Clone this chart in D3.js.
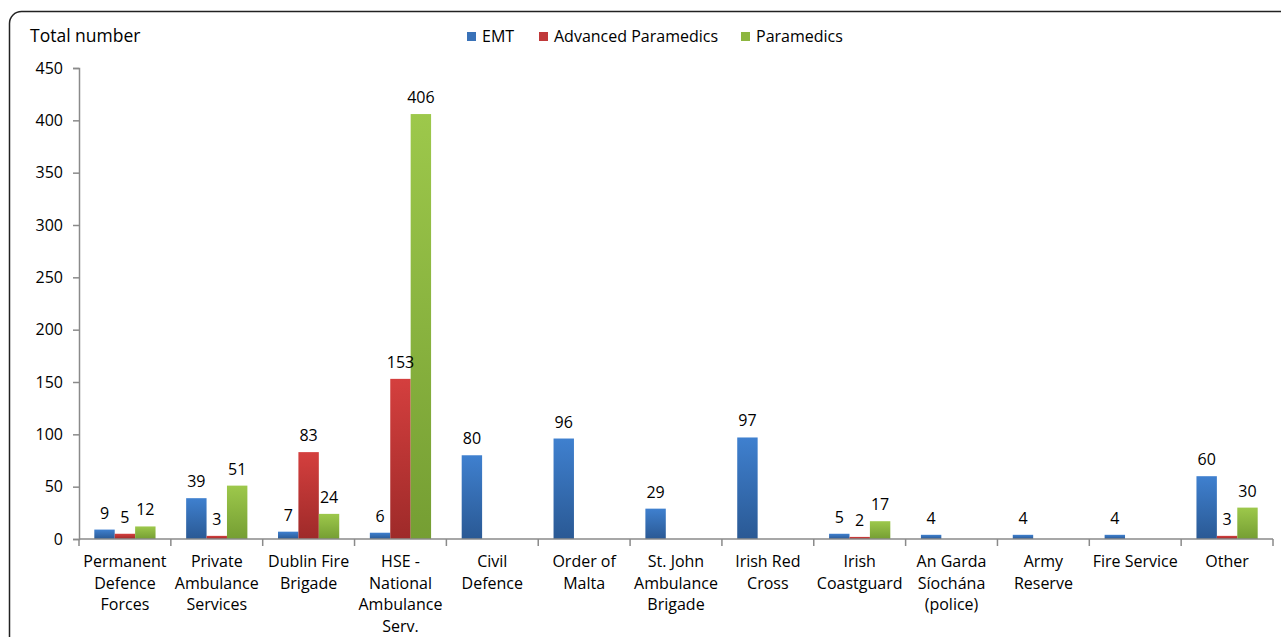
<!DOCTYPE html>
<html><head><meta charset="utf-8">
<script src="https://cdn.jsdelivr.net/npm/d3@7"></script>
<style>body{margin:0;background:#fff;}svg{display:block;font-family:"Open Sans",sans-serif;}</style>
</head><body>
<svg id="c" width="1281" height="637"></svg>
<script>
const categories = [
  ["Permanent","Defence","Forces"],
  ["Private","Ambulance","Services"],
  ["Dublin Fire","Brigade"],
  ["HSE -","National","Ambulance","Serv."],
  ["Civil","Defence"],
  ["Order of","Malta"],
  ["St. John","Ambulance","Brigade"],
  ["Irish Red","Cross"],
  ["Irish","Coastguard"],
  ["An Garda","Síochána","(police)"],
  ["Army","Reserve"],
  ["Fire Service"],
  ["Other"]
];
const seriesNames = ["EMT","Advanced Paramedics","Paramedics"];
const emt = [9,39,7,6,80,96,29,97,5,4,4,4,60];
const advParamedics = [5,3,83,153,null,null,null,null,2,null,null,null,3];
const paramedics = [12,51,24,406,null,null,null,null,17,null,null,null,30];
const yTicks = [0,50,100,150,200,250,300,350,400,450];

const series = [emt, advParamedics, paramedics];
const grads = [["#3f80cf","#2a5994"],["#d43f3e","#9e2a29"],["#9dc84b","#759e33"]];
const legendColors = ["#3a72b8","#c0393a","#8db640"];

const svg = d3.select("#c");
const defs = svg.append("defs");
grads.forEach((g,i)=>{
  const lg = defs.append("linearGradient").attr("id","g"+i).attr("x1",0).attr("y1",0).attr("x2",0).attr("y2",1);
  lg.append("stop").attr("offset","0%").attr("stop-color",g[0]);
  lg.append("stop").attr("offset","100%").attr("stop-color",g[1]);
});

// frame
svg.append("rect").attr("x",9.5).attr("y",11.5).attr("width",1300).attr("height",700)
  .attr("rx",12).attr("fill","none").attr("stroke","#222").attr("stroke-width",1.5);

const x0 = 79, x1 = 1273, yTop = 68, yBot = 539;
const y = d3.scaleLinear().domain([0,450]).range([yBot,yTop]);
const x = d3.scaleBand().domain(d3.range(categories.length)).range([x0,x1]).paddingInner(0).paddingOuter(0);
const xs = d3.scaleBand().domain([0,1,2]).range([0,x.bandwidth()]).paddingInner(0).paddingOuter(0.75);

// y axis
const yAxis = svg.append("g").attr("transform",`translate(${x0},0)`)
  .call(d3.axisLeft(y).tickValues(yTicks).tickSize(6).tickPadding(10));
yAxis.select(".domain").attr("stroke","#8a8a8a").attr("stroke-width",1.5);
yAxis.selectAll(".tick line").attr("stroke","#8a8a8a").attr("stroke-width",1.5);
yAxis.selectAll(".tick text").attr("font-size",16).attr("fill","#000").attr("font-family","Open Sans");

// bars
series.forEach((s,si)=>{
  svg.append("g").selectAll("rect").data(s.map((v,i)=>({v,i})).filter(d=>d.v!==null)).join("rect")
    .attr("x",d=>x(d.i)+xs(si)).attr("width",xs.bandwidth())
    .attr("y",d=>y(d.v)).attr("height",d=>yBot-y(d.v))
    .attr("fill",`url(#g${si})`);
});
// value labels (on top of all bars)
series.forEach((s,si)=>{
  svg.append("g").selectAll("text").data(s.map((v,i)=>({v,i})).filter(d=>d.v!==null)).join("text")
    .attr("x",d=>x(d.i)+xs(si)+xs.bandwidth()/2).attr("y",d=>y(d.v)-11)
    .attr("text-anchor","middle").attr("font-size",16).attr("fill","#000").text(d=>d.v);
});

// x axis
const xAxis = svg.append("g").attr("transform",`translate(0,${yBot})`);
xAxis.append("line").attr("x1",x0).attr("x2",x1).attr("stroke","#8a8a8a").attr("stroke-width",1.5);
xAxis.selectAll("line.t").data(d3.range(categories.length+1)).join("line").attr("class","t")
  .attr("x1",i=>x0+i*x.bandwidth()).attr("x2",i=>x0+i*x.bandwidth()).attr("y1",0).attr("y2",7)
  .attr("stroke","#8a8a8a").attr("stroke-width",1.5);
categories.forEach((lines,i)=>{
  const t = svg.append("text").attr("text-anchor","middle").attr("font-size",16).attr("fill","#000");
  lines.forEach((l,j)=>t.append("tspan").attr("x",x(i)+x.bandwidth()/2).attr("y",567+j*21.7).text(l));
});

// title
svg.append("text").attr("x",30).attr("y",42).attr("font-size",17.5).attr("fill","#000").text("Total number");

// legend
const lx = [467,539,741];
seriesNames.forEach((n,i)=>{
  svg.append("rect").attr("x",lx[i]).attr("y",32).attr("width",9).attr("height",9).attr("fill",legendColors[i]);
  svg.append("text").attr("x",lx[i]+15).attr("y",42).attr("font-size",16).attr("fill","#000").text(n);
});
</script>
</body></html>
